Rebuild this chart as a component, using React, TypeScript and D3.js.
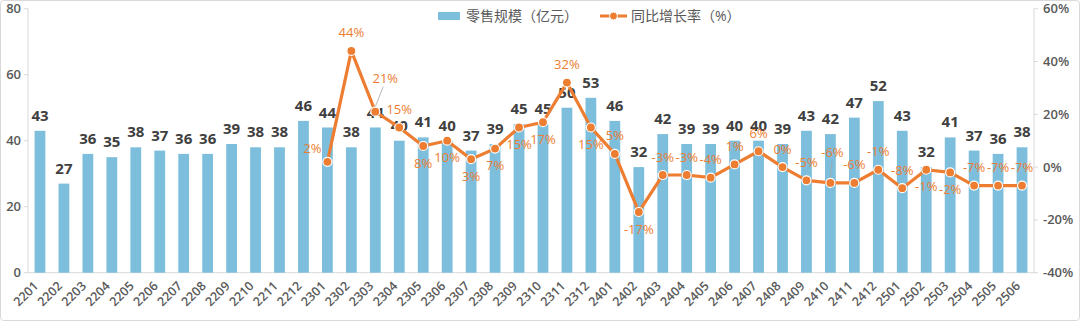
import React from "react";
import * as d3 from "d3";

const months = [
  "2201","2202","2203","2204","2205","2206","2207","2208","2209","2210","2211","2212",
  "2301","2302","2303","2304","2305","2306","2307","2308","2309","2310","2311","2312",
  "2401","2402","2403","2404","2405","2406","2407","2408","2409","2410","2411","2412",
  "2501","2502","2503","2504","2505","2506",
];
const sales = [
  43, 27, 36, 35, 38, 37, 36, 36, 39, 38, 38, 46,
  44, 38, 44, 40, 41, 40, 37, 39, 45, 45, 50, 53,
  46, 32, 42, 39, 39, 40, 40, 39, 43, 42, 47, 52,
  43, 32, 41, 37, 36, 38,
];
const growthMonths = months.slice(12);
const growth = [
  2, 44, 21, 15, 8, 10, 3, 7, 15, 17, 32, 15,
  5, -17, -3, -3, -4, 1, 6, 0, -5, -6, -6, -1,
  -8, -1, -2, -7, -7, -7,
];
// label placement kind per growth point
const growthLabelPos = [
  "l", "a", "ar", "a", "b", "b", "b", "b", "b", "b", "a", "b",
  "a", "b", "a", "a", "a", "a", "a", "a", "a", "a2", "a", "a",
  "a", "b", "b", "a", "a", "a",
];
const leftTicks = [0, 20, 40, 60, 80];
const rightTicks = [-40, -20, 0, 20, 40, 60];

const W = 1080;
const H = 321;
const X0 = 28;
const X1 = 1034;
const YB = 272.7;
const YT = 8.7;
const BAR = "#7DBEDC";
const ORANGE = "#ED7D31";
const GRAY = "#595959";
const FONT = "'Open Sans', 'Noto Sans CJK SC', sans-serif";

export default function App() {
  const x = d3.scaleBand<string>().domain(months).range([X0, X1]).paddingInner(0.55).paddingOuter(0.275);
  const yL = d3.scaleLinear().domain([0, 80]).range([YB, YT]);
  const yR = d3.scaleLinear().domain([-40, 60]).range([YB, YT]);
  const cx = (m: string) => (x(m) as number) + x.bandwidth() / 2;

  const pts = growthMonths.map((m, i) => ({ m, v: growth[i], px: cx(m), py: yR(growth[i]), pos: growthLabelPos[i] }));
  const line = d3.line<{ px: number; py: number }>().x((d) => d.px).y((d) => d.py);

  const labelOffset = (pos: string) => {
    switch (pos) {
      case "b": return { dx: 0, dy: 17 };
      case "l": return { dx: -15, dy: -13 };
      case "ar": return { dx: 10, dy: -33 };
      case "a2": return { dx: 2, dy: -30 };
      default: return { dx: 0, dy: -18 };
    }
  };

  return (
    <svg width={W} height={H} style={{ position: "absolute", left: 0, top: 0, fontFamily: FONT }}>
      <rect x={0.5} y={0.5} width={W - 1} height={H - 1} rx={3} fill="#fff" stroke="#D9D9D9" />

      {/* axes lines */}
      <line x1={X0} x2={X1} y1={YB} y2={YB} stroke="#D9D9D9" strokeWidth={1} />
      <line x1={X0} x2={X0} y1={YT} y2={YB} stroke="#D9D9D9" strokeWidth={1} />
      <line x1={X1} x2={X1} y1={YT} y2={YB} stroke="#D9D9D9" strokeWidth={1} />
      {leftTicks.map((t) => (
        <g key={"l" + t}>
          <line x1={X0 - 4} x2={X0} y1={yL(t)} y2={yL(t)} stroke="#D9D9D9" />
          <text x={X0 - 7} y={yL(t)} dy="0.35em" textAnchor="end" fontSize={13} fontWeight={600} fill={GRAY}>{t}</text>
        </g>
      ))}
      {rightTicks.map((t) => (
        <g key={"r" + t}>
          <line x1={X1} x2={X1 + 4} y1={yR(t)} y2={yR(t)} stroke="#D9D9D9" />
          <text x={X1 + 9} y={yR(t)} dy="0.35em" textAnchor="start" fontSize={13} fontWeight={600} fill={GRAY}>{t}%</text>
        </g>
      ))}

      {/* bars */}
      {months.map((m, i) => (
        <rect key={m} x={x(m)} y={yL(sales[i])} width={x.bandwidth()} height={YB - yL(sales[i])} fill={BAR} />
      ))}
      {/* x labels */}
      {months.map((m) => (
        <text key={"x" + m} transform={`translate(${cx(m) - 4},${YB + 11}) rotate(-45)`} textAnchor="end" dy="0.35em" fontSize={12.5} fontWeight={600} fill={GRAY}>{m}</text>
      ))}
      {/* bar labels */}
      {months.map((m, i) => (
        <text key={"bl" + m} x={cx(m)} y={yL(sales[i]) - 10} textAnchor="middle" fontSize={15} fontWeight={700} fill="#404040">{sales[i]}</text>
      ))}

      {/* line */}
      <path d={line(pts) || ""} fill="none" stroke={ORANGE} strokeWidth={3.2} strokeLinejoin="round" />
      {pts.map((p) => {
        const o = labelOffset(p.pos);
        const lead = p.pos === "ar" || p.pos === "a2";
        return (
          <g key={"p" + p.m}>
            {lead && <line x1={p.px} y1={p.py - 5} x2={p.px + o.dx * 0.8} y2={p.py + o.dy + 8} stroke="#A6A6A6" strokeWidth={0.8} />}
            <circle cx={p.px} cy={p.py} r={4.5} fill={ORANGE} stroke="#fff" strokeWidth={1.2} />
            <text x={p.px + o.dx} y={p.py + o.dy} dy="0.35em" textAnchor="middle" fontSize={13} fontWeight={500} fill={ORANGE}>{p.v}%</text>
          </g>
        );
      })}

      {/* legend */}
      <rect x={438} y={12} width={22} height={8} fill={BAR} />
      <text x={466} y={16} dy="0.35em" fontSize={14} fill={GRAY}>零售规模（亿元）</text>
      <line x1={600} x2={627} y1={16} y2={16} stroke={ORANGE} strokeWidth={3} />
      <circle cx={613.5} cy={16} r={4} fill={ORANGE} stroke="#fff" strokeWidth={1} />
      <text x={631} y={16} dy="0.35em" fontSize={14} fill={GRAY}>同比增长率（%）</text>
    </svg>
  );
}
